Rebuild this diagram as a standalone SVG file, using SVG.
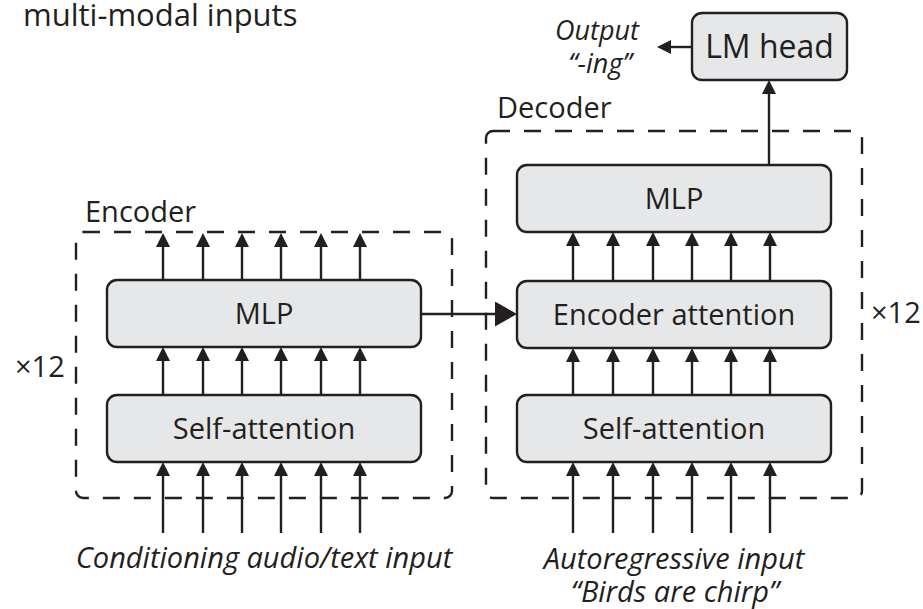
<svg xmlns="http://www.w3.org/2000/svg" width="923" height="609" viewBox="0 0 923 609">
<defs>
<marker id="ah" markerUnits="userSpaceOnUse" markerWidth="14" markerHeight="14" refX="8" refY="7" orient="auto">
<path d="M0,0 L14,7 L0,14 Z" fill="#231f20"/>
</marker>
<marker id="ahb" markerUnits="userSpaceOnUse" markerWidth="22" markerHeight="25" refX="14" refY="12.5" orient="auto">
<path d="M0,0 L22,12.5 L0,25 Z" fill="#231f20"/>
</marker>
</defs>
<style>
text{font-family:"Open Sans","Noto Sans","Liberation Sans",sans-serif;fill:#231f20;font-size:29px}
.c{text-anchor:middle}
.it{font-style:italic}
.box{fill:#e6e7e8;stroke:#231f20;stroke-width:2.4}
.dash{fill:none;stroke:#231f20;stroke-width:2.4;stroke-dasharray:17 14}
.ar{stroke:#231f20;stroke-width:2.4;fill:none;marker-end:url(#ah)}
.arb{stroke:#231f20;stroke-width:2.4;fill:none;marker-end:url(#ahb)}
</style>
<rect width="923" height="609" fill="#ffffff"/>
<text x="23" y="26" style="font-size:31px">multi-modal inputs</text>

<g id="encoder-block">
<rect class="dash" x="76" y="232" width="376" height="266" rx="7"/>
<text x="85" y="222">Encoder</text>
<text x="15" y="377">×12</text>
</g>
<g id="decoder-block">
<rect class="dash" x="486" y="131" width="376" height="367" rx="7"/>
<text x="497" y="118">Decoder</text>
<text x="871" y="323">×12</text>
</g>

<g id="enc-mlp">
<rect class="box" x="107" y="280" width="314" height="67" rx="10"/>
<text class="c" x="264" y="324">MLP</text>
</g>
<g id="enc-self-attention">
<rect class="box" x="107" y="395" width="314" height="67" rx="10"/>
<text class="c" x="264" y="439">Self-attention</text>
</g>
<g id="dec-mlp">
<rect class="box" x="517" y="165" width="314" height="67" rx="10"/>
<text class="c" x="674" y="209">MLP</text>
</g>
<g id="dec-encoder-attention">
<rect class="box" x="517" y="281" width="314" height="67" rx="10"/>
<text class="c" x="674" y="325">Encoder attention</text>
</g>
<g id="dec-self-attention">
<rect class="box" x="517" y="395" width="314" height="67" rx="10"/>
<text class="c" x="674" y="439">Self-attention</text>
</g>
<g id="lm-head">
<rect class="box" x="692" y="13" width="155" height="67" rx="10"/>
<text class="c" x="769.5" y="58" style="font-size:32px">LM head</text>
</g>
<g id="output-label">
<text class="c it" x="597" y="40" style="font-size:27px">Output</text>
<text class="c it" x="600" y="73" style="font-size:27px">“-ing”</text>
</g>
<g id="enc-input-label">
<text class="c it" x="264" y="568">Conditioning audio/text input</text>
</g>
<g id="dec-input-label">
<text class="c it" x="674" y="569">Autoregressive input</text>
<text class="c it" x="675" y="602">“Birds are chirp”</text>
</g>

<g id="connectors">
<path class="ar" d="M163,533V468"/>
<path class="ar" d="M203,533V468"/>
<path class="ar" d="M242,533V468"/>
<path class="ar" d="M281,533V468"/>
<path class="ar" d="M321,533V468"/>
<path class="ar" d="M360,533V468"/>
<path class="ar" d="M163,395V353"/>
<path class="ar" d="M203,395V353"/>
<path class="ar" d="M242,395V353"/>
<path class="ar" d="M281,395V353"/>
<path class="ar" d="M321,395V353"/>
<path class="ar" d="M360,395V353"/>
<path class="ar" d="M163,280V239"/>
<path class="ar" d="M203,280V239"/>
<path class="ar" d="M242,280V239"/>
<path class="ar" d="M281,280V239"/>
<path class="ar" d="M321,280V239"/>
<path class="ar" d="M360,280V239"/>
<path class="ar" d="M573,533V468"/>
<path class="ar" d="M613,533V468"/>
<path class="ar" d="M653,533V468"/>
<path class="ar" d="M692,533V468"/>
<path class="ar" d="M731,533V468"/>
<path class="ar" d="M770,533V468"/>
<path class="ar" d="M573,395V354"/>
<path class="ar" d="M613,395V354"/>
<path class="ar" d="M653,395V354"/>
<path class="ar" d="M692,395V354"/>
<path class="ar" d="M731,395V354"/>
<path class="ar" d="M770,395V354"/>
<path class="ar" d="M573,281V238"/>
<path class="ar" d="M613,281V238"/>
<path class="ar" d="M653,281V238"/>
<path class="ar" d="M692,281V238"/>
<path class="ar" d="M731,281V238"/>
<path class="ar" d="M770,281V238"/>
<path class="ar" d="M769,165V86"/>
<path class="ar" d="M692,47H663"/>
<path class="arb" d="M421,314H509"/>
</g>
</svg>
